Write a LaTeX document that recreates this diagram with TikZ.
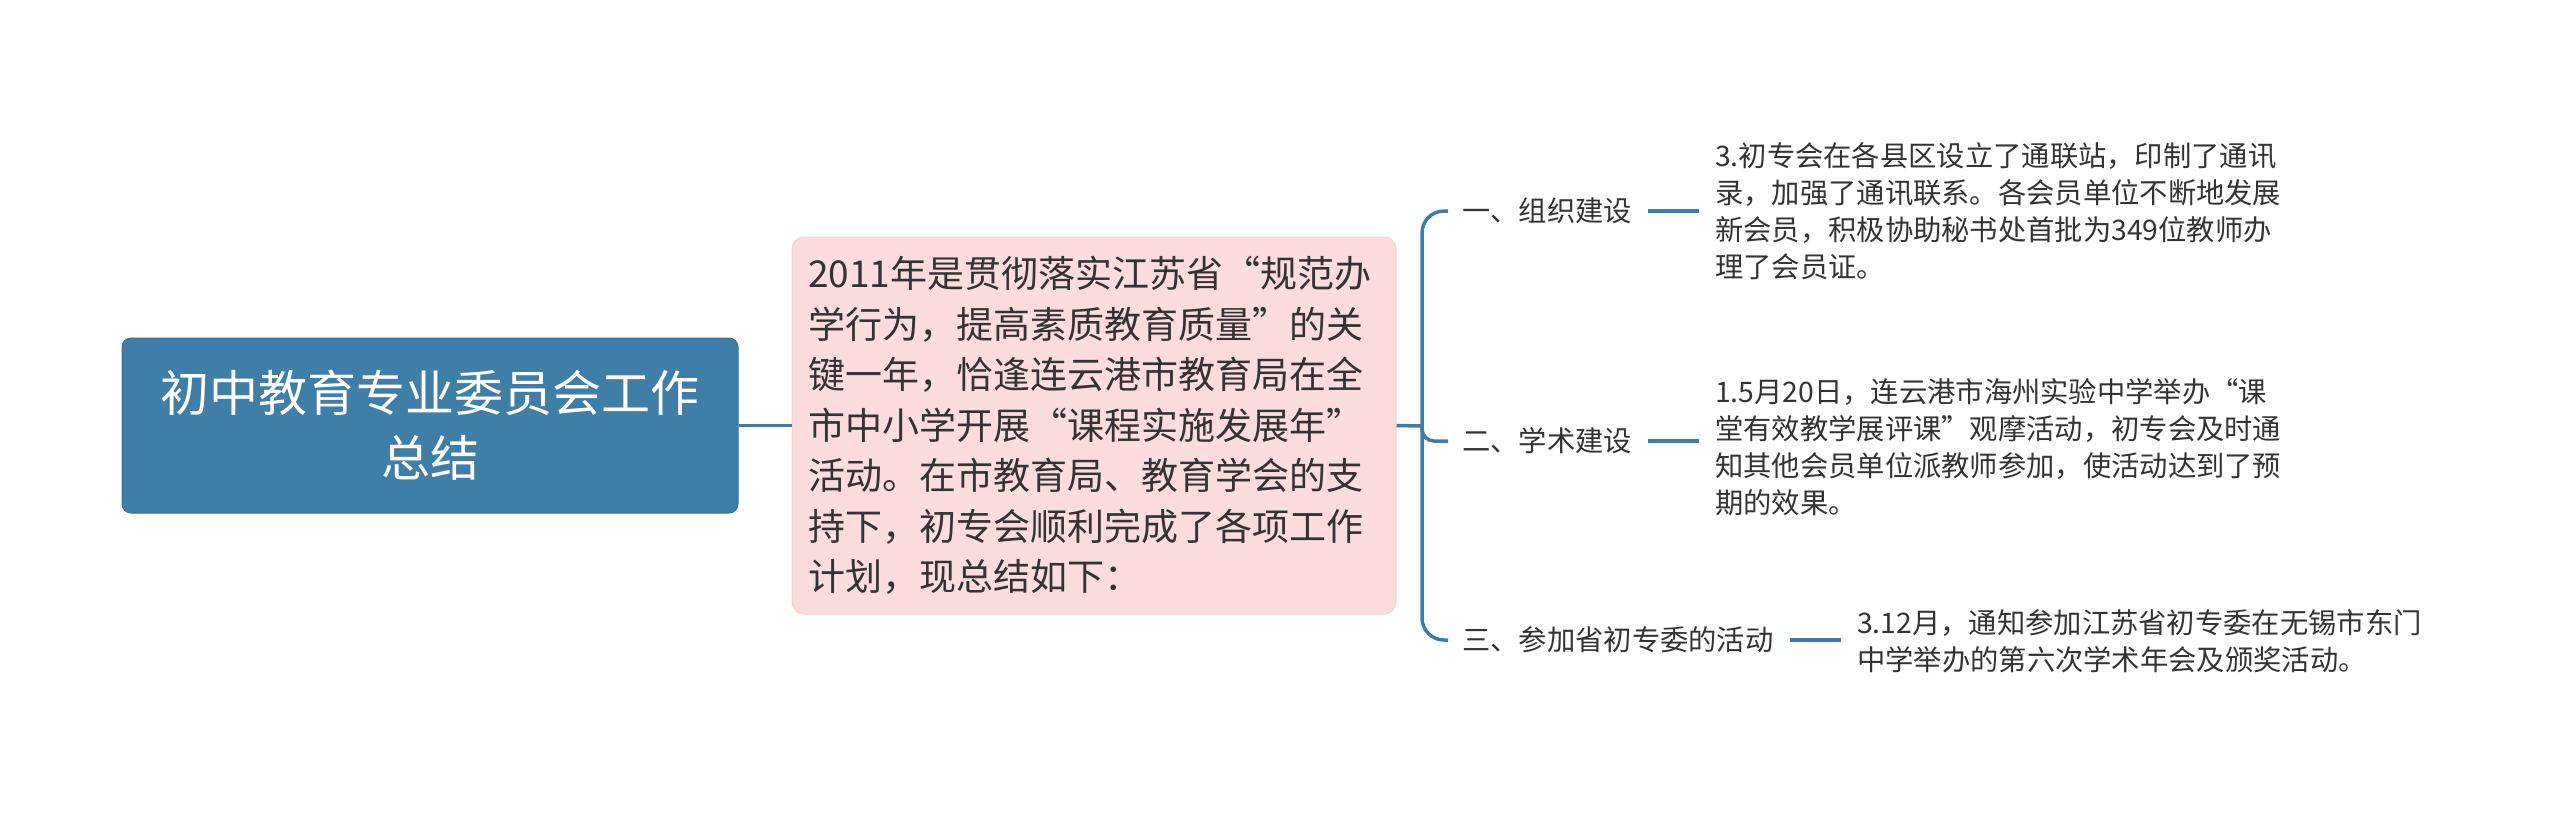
\documentclass[tikz,border=0pt]{standalone}
\usepackage{fontspec}
\setmainfont{Noto Sans CJK SC}
\definecolor{rootblue}{HTML}{3F7EA6}
\definecolor{rootedge}{HTML}{36719A}
\definecolor{linkblue}{HTML}{3D7CA4}
\definecolor{pinkfill}{HTML}{FCDCDC}
\definecolor{pinkedge}{HTML}{F6D2D2}
\definecolor{textcol}{HTML}{333333}
\begin{document}
\begin{tikzpicture}[x=1pt,y=-1pt,
  conn/.style={draw=linkblue, line width=3.5pt},
  rootbox/.style={fill=rootblue, draw=rootedge, line width=1pt, rounded corners=9pt,
    minimum width=616pt, minimum height=175pt, text=white, align=center,
    font=\fontsize{49}{65}\selectfont, inner sep=0pt},
  introbox/.style={fill=pinkfill, draw=pinkedge, line width=1pt, rounded corners=12pt,
    minimum height=377pt, text width=572pt, inner xsep=16pt, align=left,
    font=\fontsize{37}{50.5}\selectfont, text=textcol},
  branch/.style={font=\fontsize{28.3}{37}\selectfont, text=textcol, inner xsep=14pt,
    inner ysep=4pt, anchor=west},
  leaf/.style={font=\fontsize{28.3}{37}\selectfont, text=textcol, align=left,
    inner xsep=16pt, anchor=west},
]
\useasboundingbox (0,0) rectangle (2560,815);
\node[rootbox] (root) at (430,425.5) {初中教育专业委员会工作\\总结};
\node[introbox] (intro) at (1094,425.5) {2011年是贯彻落实江苏省“规范办\\学行为，提高素质教育质量”的关\\键一年，恰逢连云港市教育局在全\\市中小学开展“课程实施发展年”\\活动。在市教育局、教育学会的支\\持下，初专会顺利完成了各项工作\\计划，现总结如下：};
\draw[conn, line width=3pt] (root.east) -- (intro.west);
\coordinate (j) at (1422,426);
\draw[conn] (intro.east) -- (j);

\node[branch] (b1) at (1448,211) {一、组织建设};
\node[branch] (b2) at (1448,441) {二、学术建设};
\node[branch] (b3) at (1448,640) {三、参加省初专委的活动};

\draw[conn, rounded corners=22pt] (j) |- (b1.west);
\draw[conn, rounded corners=12pt] (j) |- (b2.west);
\draw[conn, rounded corners=22pt] (j) |- (b3.west);

\node[leaf] (n1) at (1699,211) {3.初专会在各县区设立了通联站，印制了通讯\\录，加强了通讯联系。各会员单位不断地发展\\新会员，积极协助秘书处首批为349位教师办\\理了会员证。};
\node[leaf] (n2) at (1699,447) {1.5月20日，连云港市海州实验中学举办“课\\堂有效教学展评课”观摩活动，初专会及时通\\知其他会员单位派教师参加，使活动达到了预\\期的效果。};
\node[leaf] (n3) at (1841,641) {3.12月，通知参加江苏省初专委在无锡市东门\\中学举办的第六次学术年会及颁奖活动。};

\draw[conn, line width=4pt, shorten <=2pt] (b1.east) -- (b1.east -| n1.west);
\draw[conn, line width=4pt, shorten <=2pt] (b2.east) -- (b2.east -| n2.west);
\draw[conn, line width=4pt, shorten <=2pt] (b3.east) -- (b3.east -| n3.west);
\end{tikzpicture}
\end{document}
